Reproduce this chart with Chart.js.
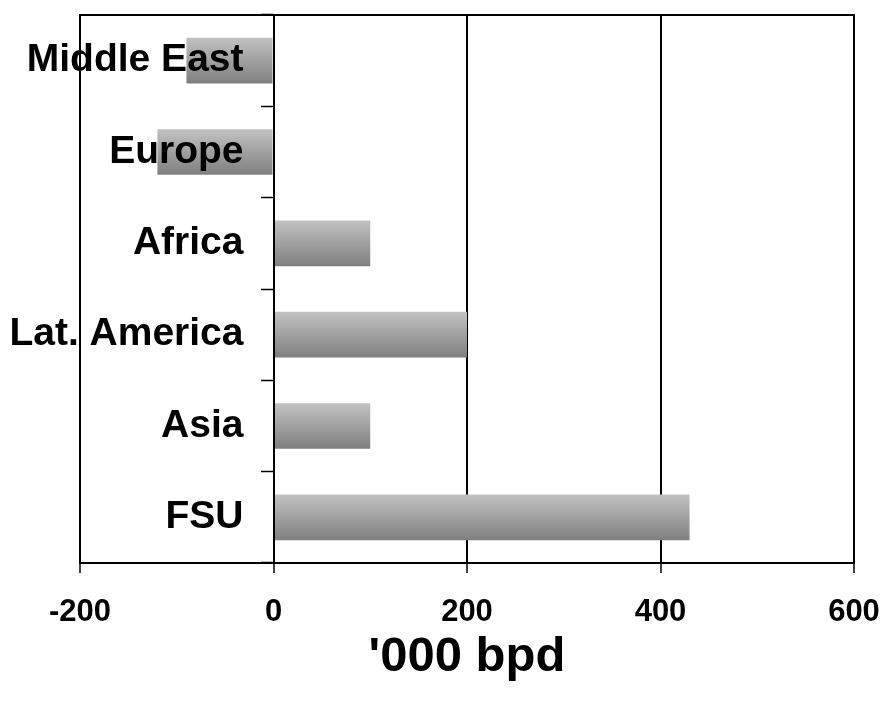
<!DOCTYPE html>
<html>
<head>
<meta charset="utf-8">
<script src="https://cdn.jsdelivr.net/npm/chart.js@4.4.1/dist/chart.umd.min.js"></script>
<style>
  html, body { margin: 0; padding: 0; background: #ffffff; }
  #wrap { width: 886px; height: 707px; position: relative; }
</style>
</head>
<body>
<div id="wrap"><canvas id="chart"></canvas></div>
<script>
// Change in supply by region, thousand barrels per day
const regions = ['Middle East', 'Europe', 'Africa', 'Lat. America', 'Asia', 'FSU'];
const changeKbpd = [-90, -120, 100, 200, 100, 430];
const xTicks = [-200, 0, 200, 400, 600];
const axisTitle = "'000 bpd";

const FONT = "'Liberation Sans', Arial, Helvetica, sans-serif";
const BAR_PCT = 0.5;
const LABEL_GAP = 30;      // space between the zero line and the region names
const X_AXIS_HEIGHT = 121; // tick marks, value labels and the unit title

// Vertical grey shading on each bar, light at the top, dark at the bottom
function barShade(ctx) {
  const chart = ctx.chart;
  const y = chart.scales && chart.scales.y;
  if (!y || ctx.dataIndex === undefined) return '#a0a0a0';
  const centre = y.getPixelForValue(ctx.dataIndex);
  const half = (y.height / regions.length) * BAR_PCT / 2;
  if (!isFinite(centre) || !isFinite(half) || half <= 0) return '#a0a0a0';
  const g = chart.ctx.createLinearGradient(0, centre - half, 0, centre + half);
  g.addColorStop(0, '#c2c2c2');
  g.addColorStop(1, '#7f7f7f');
  return g;
}

// Outline round the whole plot area
const frame = {
  id: 'frame',
  afterDraw(chart) {
    const { ctx, chartArea: a } = chart;
    ctx.save();
    ctx.strokeStyle = '#000000';
    ctx.lineWidth = 2;
    ctx.strokeRect(a.left, a.top, a.right - a.left, a.bottom - a.top);
    ctx.restore();
  }
};

function noEdgePadding(scale) {
  scale.paddingTop = 0;
  scale.paddingBottom = 0;
  scale.paddingLeft = 0;
  scale.paddingRight = 0;
}

new Chart(document.getElementById('chart'), {
  type: 'bar',
  data: {
    labels: regions,
    datasets: [{
      data: changeKbpd,
      backgroundColor: barShade,
      borderWidth: 0,
      barPercentage: BAR_PCT,
      categoryPercentage: 1
    }]
  },
  plugins: [frame],
  options: {
    indexAxis: 'y',
    responsive: true,
    maintainAspectRatio: false,
    animation: false,
    layout: { padding: { left: 80, right: 32, top: 15, bottom: 23 } },
    plugins: {
      legend: { display: false },
      tooltip: { enabled: false }
    },
    scales: {
      x: {
        type: 'linear',
        min: -200,
        max: 600,
        afterBuildTicks(scale) { scale.ticks = xTicks.map(v => ({ value: v })); },
        afterFit(scale) {
          noEdgePadding(scale);
          scale.height = X_AXIS_HEIGHT;
        },
        grid: {
          color: '#000000',
          lineWidth: 2,
          drawTicks: true,
          tickLength: 10,
          tickColor: '#000000',
          tickWidth: 1.5
        },
        border: { display: true, color: '#000000', width: 2 },
        ticks: {
          color: '#000000',
          padding: 22,
          font: { family: FONT, size: 31, weight: 'bold', lineHeight: 1.1 },
          maxRotation: 0
        },
        title: {
          display: true,
          text: axisTitle,
          color: '#000000',
          font: { family: FONT, size: 49, weight: 'bold', lineHeight: 1.1 },
          padding: { top: 1, bottom: 0 }
        }
      },
      y: {
        type: 'category',
        position: { x: 0 },
        afterFit: noEdgePadding,
        afterUpdate(scale) {
          // region names sit to the left of the zero line, clear of its tick marks
          if (scale.__gapInstalled) return;
          scale.__gapInstalled = true;
          const base = scale._computeLabelItems;
          scale._computeLabelItems = function (area) {
            const items = base.call(this, area);
            items.forEach(it => { it.options.translation[0] -= LABEL_GAP; });
            return items;
          };
        },
        grid: {
          drawOnChartArea: false,
          drawTicks: true,
          tickLength: 12,
          tickColor: '#000000',
          tickWidth: 1.5,
          offset: true
        },
        border: { display: true, color: '#000000', width: 2, z: 1 },
        ticks: {
          z: 1,
          color: '#000000',
          font: { family: FONT, size: 39, weight: 'bold' }
        }
      }
    }
  }
});
</script>
</body>
</html>
